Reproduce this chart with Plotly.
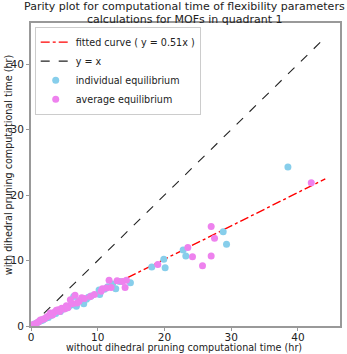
import plotly.graph_objects as go

# tiempos (hr): sin poda diedral (x) vs con poda diedral (y)
ind_x = [0.2, 0.5, 0.8, 1.1, 1.5, 1.8, 2.2, 2.6, 3.0, 3.3, 3.7, 4.0, 4.4, 4.8, 5.2, 5.6,
         6.0, 6.4, 6.8, 7.1, 7.5, 7.9, 8.3, 8.6, 9.0, 10.2, 10.3, 11.0, 11.5, 12.2, 12.7,
         13.3, 14.9, 18.1, 19.9, 20.1, 22.8, 23.2, 28.8, 29.3, 38.5]
ind_y = [0.1, 0.3, 0.4, 0.6, 0.8, 0.9, 1.2, 1.3, 1.6, 1.8, 1.9, 2.3, 2.2, 2.6, 2.7, 2.9,
         3.2, 4.5, 3.0, 3.8, 4.0, 3.4, 4.1, 4.4, 4.6, 5.5, 4.8, 5.6, 6.0, 6.4, 5.7,
         6.8, 6.6, 9.0, 10.2, 8.9, 11.6, 10.7, 14.4, 12.5, 24.3]

avg_x = [0.1, 0.3, 0.6, 0.9, 1.2, 1.4, 1.7, 2.0, 2.4, 2.7, 2.9, 3.2, 3.5, 3.8, 4.1, 4.3,
         4.6, 5.0, 5.3, 5.5, 5.9, 6.2, 6.6, 6.9, 7.2, 7.6, 8.0, 8.9, 9.5, 10.5, 10.7,
         11.3, 11.7, 12.0, 12.9, 13.7, 14.1, 14.3, 19.0, 23.5, 24.2, 25.7, 27.0, 27.0,
         27.5, 42.0]
avg_y = [0.05, 0.2, 0.3, 0.5, 0.7, 0.9, 1.0, 1.1, 1.4, 1.6, 2.0, 1.7, 2.1, 2.4, 2.5, 2.2,
         2.7, 2.6, 3.1, 2.8, 4.0, 3.4, 4.7, 3.5, 3.8, 4.3, 4.2, 4.5, 4.8, 5.3, 5.7,
         5.8, 7.0, 5.9, 6.9, 6.8, 5.9, 7.0, 9.4, 12.0, 10.6, 9.2, 15.2, 10.7,
         13.4, 21.9]

pendiente = 0.51

titulo = ['Parity plot for computational time of flexibility parameters',
          'calculations for MOFs in quadrant 1']

max_val = max(ind_x + ind_y + avg_x + avg_y) * 1.05
lim = max_val * 1.05
linea_x = [0, max_val]

FONT = 'DejaVu Sans'
GRIS = '#222222'

fig = go.Figure()
fig.add_trace(go.Scatter(
    x=linea_x, y=[pendiente * v for v in linea_x],
    mode='lines', line=dict(color='red', width=1.4, dash='dashdot'),
    name='fitted curve ( y = %.2fx )' % pendiente,
))
fig.add_trace(go.Scatter(
    x=linea_x, y=linea_x,
    mode='lines', line=dict(color=GRIS, width=1.1, dash='dash'),
    name='y = x',
))
fig.add_trace(go.Scatter(
    x=ind_x, y=ind_y, mode='markers',
    marker=dict(size=7, color='skyblue'),
    name='individual equilibrium',
))
fig.add_trace(go.Scatter(
    x=avg_x, y=avg_y, mode='markers',
    marker=dict(size=7, color='violet'),
    name='average equilibrium',
))

eje = dict(
    range=[0, lim], showgrid=False, zeroline=False, automargin=False,
    showline=True, mirror=True, linecolor='#999999', linewidth=2,
    ticks='outside', ticklen=3, tickcolor='#999999',
    tickvals=[0, 10, 20, 30, 40],
    tickfont=dict(family=FONT, size=10.5, color=GRIS),
)

fig.update_layout(
    width=347, height=354,
    margin=dict(l=31, r=7, t=23, b=28),
    paper_bgcolor='white', plot_bgcolor='white',
    font=dict(family=FONT, color=GRIS),
    xaxis=dict(eje, ticklabelstandoff=-3),
    yaxis=eje,
    legend=dict(
        x=0.012, y=0.988, xanchor='left', yanchor='top',
        bgcolor='rgba(255,255,255,0.85)', bordercolor='#cccccc', borderwidth=1,
        font=dict(family=FONT, size=9.6), itemwidth=30, tracegroupgap=0,
    ),
    showlegend=True,
)

# titulo (dos lineas) y etiquetas de ejes como anotaciones
for texto, yy in zip(titulo, [1.053, 1.012]):
    fig.add_annotation(
        text=texto, xref='paper', yref='paper', x=0.498, y=yy,
        xanchor='center', yanchor='middle', showarrow=False,
        font=dict(family=FONT, size=11, color=GRIS),
    )
fig.add_annotation(
    text='without dihedral pruning computational time (hr)',
    xref='paper', yref='paper', x=0.495, y=-0.07, xanchor='center', yanchor='middle',
    showarrow=False, font=dict(family=FONT, size=9.6, color=GRIS),
)
fig.add_annotation(
    text='with dihedral pruning computational time (hr)',
    xref='paper', yref='paper', x=-0.072, y=0.53, xanchor='center', yanchor='middle',
    textangle=-90, showarrow=False, font=dict(family=FONT, size=9.6, color=GRIS),
)

# quitar el margen por defecto del body para que la figura ocupe toda la ventana
fig.write_html('out.html', config={'displayModeBar': False},
               post_script="document.body.style.margin='0';")
